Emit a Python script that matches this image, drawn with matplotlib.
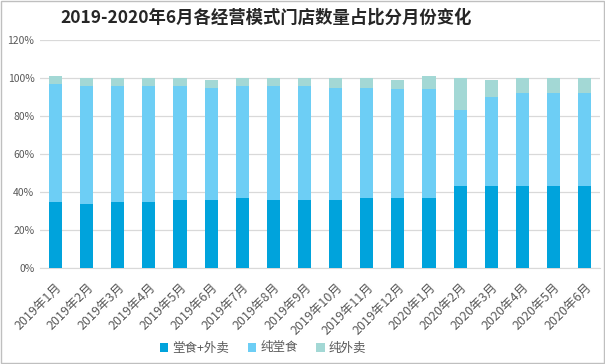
import matplotlib
matplotlib.use("Agg")
import matplotlib.pyplot as plt
from matplotlib.patches import Rectangle
import numpy as np

plt.rcParams['font.family'] = ['Noto Sans CJK SC', 'DejaVu Sans']

categories = ["2019年1月", "2019年2月", "2019年3月", "2019年4月", "2019年5月", "2019年6月",
              "2019年7月", "2019年8月", "2019年9月", "2019年10月", "2019年11月", "2019年12月",
              "2020年1月", "2020年2月", "2020年3月", "2020年4月", "2020年5月", "2020年6月"]
dine_and_takeout = [35, 34, 35, 35, 36, 36, 37, 36, 36, 36, 37, 37, 37, 43, 43, 43, 43, 43]
pure_dine = [62, 62, 61, 61, 60, 59, 59, 60, 60, 59, 58, 57, 57, 40, 47, 49, 49, 49]
pure_takeout = [4, 4, 4, 4, 4, 4, 4, 4, 4, 5, 5, 5, 7, 17, 9, 8, 8, 8]
series_names = ["堂食+外卖", "纯堂食", "纯外卖"]
colors = ["#00A3DC", "#6DCEF5", "#A3D8D5"]
yticks = [0, 20, 40, 60, 80, 100, 120]

fig = plt.figure(figsize=(6.05, 3.64), dpi=100)
ax = fig.add_axes([0.066, 0.263, 0.926, 0.627])

x = np.arange(len(categories))
w = 0.42
a = np.array(dine_and_takeout)
b = np.array(pure_dine)
c = np.array(pure_takeout)
ax.bar(x, a, w, color=colors[0], label=series_names[0], zorder=3)
ax.bar(x, b, w, bottom=a, color=colors[1], label=series_names[1], zorder=3)
ax.bar(x, c, w, bottom=a + b, color=colors[2], label=series_names[2], zorder=3)

ax.set_xlim(-0.5, len(categories) - 0.5)
ax.set_ylim(0, 120)
ax.set_yticks(yticks)
ax.set_yticklabels([f"{v}%" for v in yticks], fontsize=7.5, color="#595959")
ax.yaxis.grid(True, color="#D9D9D9", linewidth=0.9, zorder=0)
ax.set_xticks(x)
ax.set_xticklabels(categories, rotation=45, ha="right", rotation_mode="anchor",
                   fontsize=9, color="#595959")
ax.tick_params(axis="both", length=0, pad=4)
ax.tick_params(axis="x", pad=9)
for s in ["top", "right", "left"]:
    ax.spines[s].set_visible(False)
ax.spines["bottom"].set_color("#D9D9D9")

fig.text(266 / 605, 1 - 18 / 364, "2019-2020年6月各经营模式门店数量占比分月份变化",
         ha="center", va="center", fontsize=12.5, fontweight="bold", color="#262626")

leg = fig.legend(loc="center", bbox_to_anchor=(263 / 605, 1 - 348 / 364), ncol=3,
                 frameon=False, fontsize=9, handlelength=0.7, handleheight=0.7,
                 handletextpad=0.3, columnspacing=1.5, labelcolor="#595959")

fig.patches.append(Rectangle((0.001, 0.002), 0.997, 0.995, transform=fig.transFigure,
                             fill=False, edgecolor="#BFBFBF", linewidth=1))

fig.savefig("out.png", dpi=100)
